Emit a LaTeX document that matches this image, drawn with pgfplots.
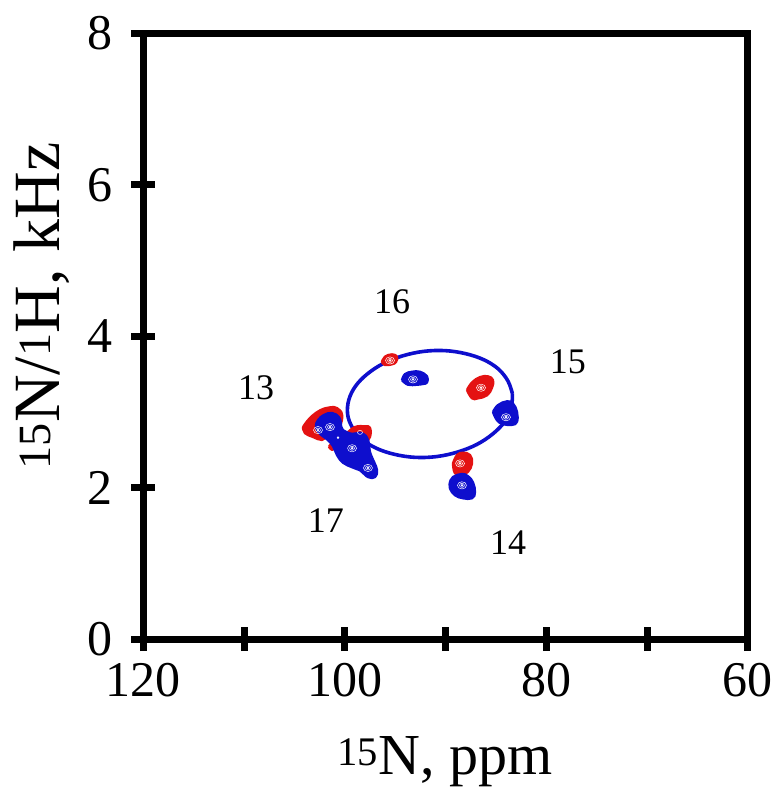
\documentclass[border=0pt]{standalone}
\usepackage{fontspec}
\setmainfont{Liberation Serif}
\usepackage{pgfplots}
\pgfplotsset{compat=1.18}
\definecolor{pkred}{RGB}{228,18,18}
\definecolor{pkblue}{RGB}{14,14,205}

\begin{document}
\begin{tikzpicture}
\path[use as bounding box] (-143.5pt,-150pt) rectangle (635.5pt,639pt);
\begin{axis}[
  scale only axis, width=604.5pt, height=605.5pt,
  x dir=reverse, xmin=60, xmax=120, ymin=0, ymax=8,
  xtick={60,70,80,90,100,110,120}, xticklabels={60,,80,,100,,120},
  ytick={0,2,4,6,8},
  xtick pos=lower, ytick pos=left,
  axis line style={line width=7pt, line join=miter},
  major tick length=24pt, tick align=center,
  tick style={line width=7pt, black},
  /pgf/number format/assume math mode=true,
  tick label style={font=\fontsize{50}{50}\selectfont},
  xticklabel style={yshift=-9pt},
  yticklabel style={xshift=-15pt},
  xlabel={\textsuperscript{15}N, ppm},
  ylabel={\textsuperscript{15}N/\textsuperscript{1}H, kHz},
  xlabel style={font=\fontsize{58}{58}\selectfont, at={(axis description cs:0.499,-0.2246)}, anchor=base},
  ylabel style={font=\fontsize{66}{66}\selectfont, at={(axis description cs:-0.1385,0.55)}, anchor=base},
]

% exchange ellipse
\addplot[pkblue, line width=3.6pt, smooth, tension=0.6] coordinates {
 (83.38,3.24) (83.83,3.41) (84.80,3.57) (86.23,3.69) (88.03,3.77) (90.06,3.81)
 (92.20,3.80) (94.30,3.74) (96.20,3.64) (97.80,3.50) (98.96,3.34) (99.62,3.16)
 (99.74,2.97) (99.29,2.80) (98.32,2.64) (96.89,2.52) (95.09,2.44) (93.06,2.40)
 (90.92,2.41) (88.83,2.47) (86.92,2.57) (85.33,2.71) (84.16,2.87) (83.50,3.05)
 (83.38,3.24)};

% red (negative) cross peaks
\pgfplotsset{redpk/.style={fill=pkred, draw=pkred, line width=2.4pt, line join=round, smooth, tension=0.7},
             bluepk/.style={fill=pkblue, draw=pkblue, line width=2.4pt, line join=round, smooth, tension=0.7}}
\addplot[redpk] coordinates {(104.17,2.80) (103.47,2.92) (102.48,3.02) (101.49,3.06)
 (100.79,3.05) (100.29,2.96) (100.60,2.80) (101.79,2.69) (102.28,2.63) (103.18,2.67)
 (103.97,2.72) (104.17,2.80)};
\addplot[redpk] coordinates {(99.80,2.72) (99.01,2.80) (98.01,2.81) (97.52,2.79)
 (97.52,2.67) (98.01,2.60) (98.81,2.60) (99.50,2.63) (99.80,2.72)};
\addplot[redpk] coordinates {(101.59,2.54) (101.29,2.58) (100.89,2.54) (101.29,2.50) (101.59,2.54)};
\addplot[redpk] coordinates {(96.33,3.66) (96.03,3.73) (95.33,3.76) (94.84,3.73)
 (94.94,3.66) (95.33,3.63) (96.03,3.62) (96.33,3.66)};
\addplot[redpk] coordinates {(87.89,3.29) (87.39,3.39) (86.60,3.46) (85.80,3.47)
 (85.31,3.42) (85.41,3.32) (85.90,3.22) (86.80,3.18) (87.39,3.18) (87.89,3.29)};
\addplot[redpk] coordinates {(89.28,2.32) (88.88,2.43) (88.29,2.46) (87.59,2.43)
 (87.39,2.32) (87.79,2.21) (88.39,2.17) (89.08,2.19) (89.28,2.32)};

% blue (positive) peaks
\addplot[bluepk] coordinates {(100.40,2.83) (100.20,2.76) (99.30,2.71) (98.31,2.72)
 (97.72,2.63) (97.52,2.47) (97.12,2.34) (96.82,2.23) (97.02,2.14) (97.72,2.14)
 (98.51,2.23) (99.30,2.27) (100.20,2.33) (100.79,2.43) (101.19,2.55) (101.79,2.64)
 (102.48,2.71) (102.88,2.80) (102.68,2.89) (102.08,2.96) (101.29,2.985) (100.59,2.93)
 (100.40,2.83)};
\addplot[bluepk] coordinates {(94.34,3.42) (94.04,3.50) (93.35,3.53) (92.55,3.53)
 (91.86,3.47) (91.86,3.39) (92.26,3.37) (92.85,3.36) (93.74,3.36) (94.34,3.42)};
\addplot[bluepk] coordinates {(85.31,3.00) (84.81,3.09) (83.92,3.14) (83.32,3.11)
 (82.93,3.00) (82.93,2.87) (83.42,2.83) (84.32,2.84) (84.91,2.89) (85.31,3.00)};
\addplot[bluepk] coordinates {(89.58,2.07) (89.28,2.14) (88.39,2.18) (87.79,2.15)
 (87.30,2.07) (87.10,1.94) (87.39,1.86) (88.29,1.86) (89.08,1.90) (89.58,1.99) (89.58,2.07)};

% innermost contour levels at the peak maxima
\addplot[only marks, mark=o, mark size=4.5pt, mark options={white, line width=0.5pt, yscale=0.8}]
 coordinates {(95.53,3.68) (86.50,3.32) (88.58,2.32) (102.68,2.76)
 (93.25,3.43) (84.02,2.93) (88.39,2.03) (101.49,2.80) (99.30,2.52) (97.72,2.26)};
\addplot[only marks, mark=o, mark size=2.5pt, mark options={white, line width=0.5pt, yscale=0.8}]
 coordinates {(95.53,3.68) (86.50,3.32) (88.58,2.32) (102.68,2.76) (98.51,2.73)
 (93.25,3.43) (84.02,2.93) (88.39,2.03) (101.49,2.80) (99.30,2.52) (97.72,2.26)};
\addplot[only marks, mark=*, mark size=1pt, mark options={white, draw=white}]
 coordinates {(95.53,3.68) (86.50,3.32) (88.58,2.32) (102.68,2.76)
 (93.25,3.43) (84.02,2.93) (88.39,2.03) (101.49,2.80) (99.30,2.52) (97.72,2.26) (100.69,2.66)};

% residue numbers
\node[font=\fontsize{36}{36}\selectfont] at (axis cs:108.83,3.32) {13};
\node[font=\fontsize{36}{36}\selectfont] at (axis cs:83.82,1.27) {14};
\node[font=\fontsize{36}{36}\selectfont] at (axis cs:77.87,3.66) {15};
\node[font=\fontsize{36}{36}\selectfont] at (axis cs:95.33,4.45) {16};
\node[font=\fontsize{36}{36}\selectfont] at (axis cs:101.89,1.57) {17};
\end{axis}
\end{tikzpicture}
\end{document}
